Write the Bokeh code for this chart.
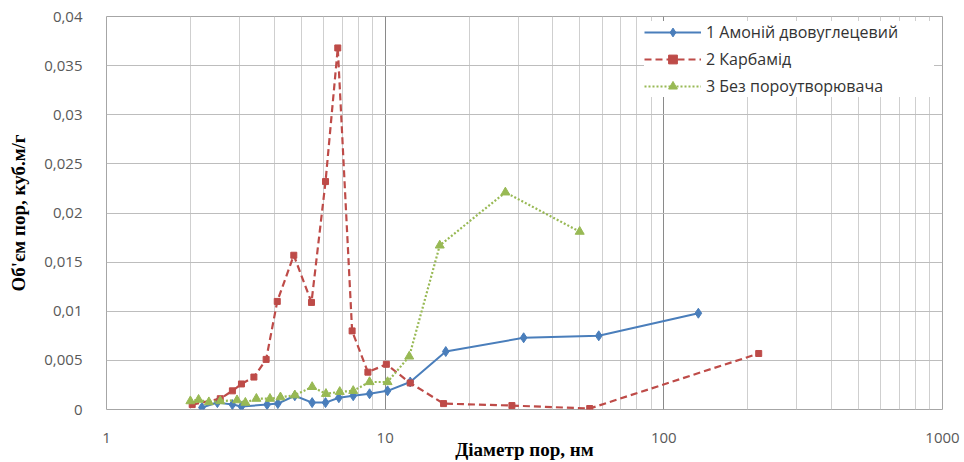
from bokeh.plotting import figure
from bokeh.models import FixedTicker, Range1d, Legend, LegendItem
from bokeh.embed import file_html
from bokeh.resources import INLINE

# ---- data ----
blue_x = [2.2, 2.5, 2.83, 3.05, 3.77, 4.12, 4.74, 5.47, 6.11, 6.82, 7.68, 8.79, 10.2, 12.3, 16.5, 31.4, 58.4, 133]
blue_y = [0.0002, 0.0007, 0.0005, 0.0003, 0.0005, 0.0006, 0.0014, 0.0007, 0.0007, 0.0012, 0.0014, 0.0016, 0.0019, 0.0028, 0.0059, 0.0073, 0.0075, 0.0098]

red_x = [2.03, 2.56, 2.83, 3.05, 3.38, 3.74, 4.10, 4.70, 5.44, 6.11, 6.76, 7.61, 8.67, 10.1, 12.3, 16.2, 28.5, 54.2, 219]
red_y = [0.0005, 0.0011, 0.0019, 0.0026, 0.0033, 0.0051, 0.011, 0.0157, 0.0109, 0.0232, 0.0368, 0.0080, 0.0038, 0.0046, 0.0027, 0.0006, 0.0004, 0.0001, 0.0057]

green_x = [2.0, 2.14, 2.33, 2.56, 2.94, 3.15, 3.45, 3.86, 4.21, 4.74, 5.47, 6.13, 6.87, 7.68, 8.79, 10.2, 12.2, 15.7, 27.0, 49.9]
green_y = [0.00085, 0.001, 0.00075, 0.00085, 0.00095, 0.0007, 0.0011, 0.0011, 0.00125, 0.00145, 0.0023, 0.0016, 0.0018, 0.0019, 0.0028, 0.0028, 0.0054, 0.0167, 0.0221, 0.0181]

series_names = ["1 Амоній двовуглецевий", "2 Карбамід", "3 Без пороутворювача"]

x_ticks = [1, 10, 100, 1000]
x_tick_labels = ["1", "10", "100", "1000"]
x_minor = [m * 10 ** k for k in range(3) for m in range(2, 10)]
y_ticks = [0, 0.005, 0.01, 0.015, 0.02, 0.025, 0.03, 0.035, 0.04]
y_tick_labels = ["0", "0,005", "0,01", "0,015", "0,02", "0,025", "0,03", "0,035", "0,04"]

x_label = "Діаметр пор, нм"
y_label = "Об'єм пор, куб.м/г"

# ---- figure ----
p = figure(width=964, height=462, x_axis_type="log",
           x_range=Range1d(1, 1000), y_range=Range1d(0, 0.04),
           output_backend="svg", toolbar_location=None,
           min_border_left=106, min_border_right=22,
           min_border_top=16, min_border_bottom=52)
p.background_fill_color = "white"
p.border_fill_color = "white"
p.outline_line_color = "#a6a6a6"
p.outline_line_width = 1

# axes
p.xaxis.ticker = FixedTicker(ticks=x_ticks, minor_ticks=x_minor)
p.xaxis.major_label_overrides = {t: l for t, l in zip(x_ticks, x_tick_labels)}
p.yaxis.ticker = FixedTicker(ticks=y_ticks)
p.yaxis.major_label_overrides = {t: l for t, l in zip(y_ticks, y_tick_labels)}

for ax in (p.xaxis, p.yaxis):
    ax.axis_line_color = None
    ax.major_tick_line_color = None
    ax.minor_tick_line_color = None
    ax.major_label_text_font = "Open Sans"
    ax.major_label_text_font_size = "15px"
    ax.major_label_text_color = "#595959"
    ax.axis_label_text_font = "Liberation Serif"
    ax.axis_label_text_font_style = "bold"
    ax.axis_label_text_font_size = "19px"
    ax.axis_label_text_color = "#000000"

p.xaxis.major_label_standoff = 17
p.xaxis.axis_label = x_label
p.xaxis.axis_label_standoff = -7
p.yaxis.major_label_standoff = 18
p.yaxis.axis_label = y_label
p.yaxis.axis_label_standoff = 12

# grid
p.xgrid.grid_line_color = "#8a8a8a"
p.xgrid.grid_line_width = 1
p.xgrid.minor_grid_line_color = "#cfcfcf"
p.xgrid.minor_grid_line_width = 1
p.ygrid.grid_line_color = "#bdbdbd"
p.ygrid.grid_line_width = 1

# series
blue = "#4A7EBB"
red = "#BE4B48"
green = "#98B954"

b_line = p.line(blue_x, blue_y, line_color=blue, line_width=2)
b_pts = p.scatter(blue_x, blue_y, marker="diamond", size=10, fill_color=blue, line_color=blue)

r_line = p.line(red_x, red_y, line_color=red, line_width=2.2, line_dash="7 4")
r_pts = p.scatter(red_x, red_y, marker="square", size=6, fill_color=red, line_color=red)

g_line = p.line(green_x, green_y, line_color=green, line_width=2.2, line_dash="2 2")
g_pts = p.scatter(green_x, green_y, marker="triangle", size=9, fill_color=green, line_color=green)

legend = Legend(items=[
    LegendItem(label=series_names[0], renderers=[b_line, b_pts]),
    LegendItem(label=series_names[1], renderers=[r_line, r_pts]),
    LegendItem(label=series_names[2], renderers=[g_line, g_pts]),
], location=(538, 312))
legend.label_text_font = "Open Sans"
legend.label_text_font_size = "16px"
legend.label_text_color = "#333333"
legend.glyph_width = 57
legend.glyph_height = 22
legend.label_height = 22
legend.label_width = 228
legend.label_standoff = 5
legend.spacing = 5
legend.padding = 6
legend.margin = 0
legend.border_line_color = None
legend.background_fill_color = "white"
legend.background_fill_alpha = 1.0
p.add_layout(legend)

open("out.html", "w").write(file_html(p, INLINE))
